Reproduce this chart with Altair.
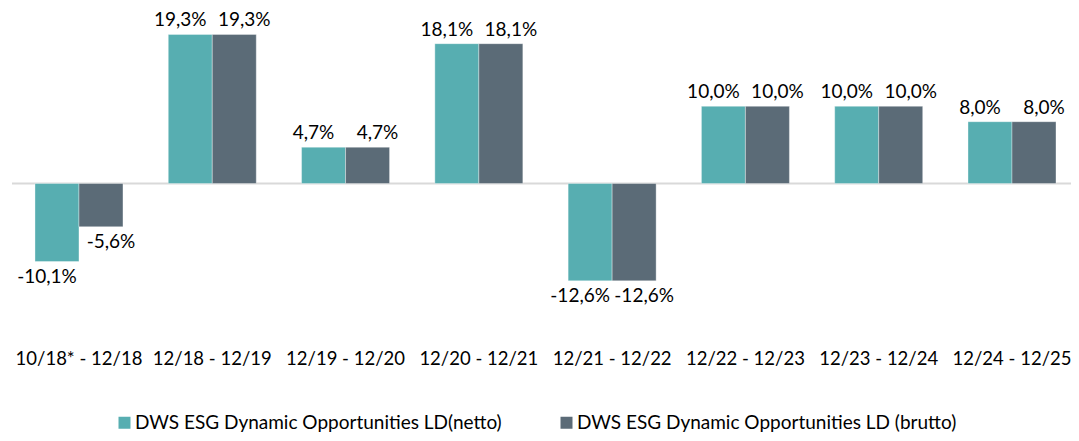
import altair as alt
import pandas as pd

periods = ["10/18* - 12/18", "12/18 - 12/19", "12/19 - 12/20", "12/20 - 12/21",
           "12/21 - 12/22", "12/22 - 12/23", "12/23 - 12/24", "12/24 - 12/25"]
netto = [-10.1, 19.3, 4.7, 18.1, -12.6, 10.0, 10.0, 8.0]
brutto = [-5.6, 19.3, 4.7, 18.1, -12.6, 10.0, 10.0, 8.0]
series = ["DWS ESG Dynamic Opportunities LD(netto)", "DWS ESG Dynamic Opportunities LD (brutto)"]
colors = ["#57AEB1", "#5B6B77"]

rows = []
for p, n, b in zip(periods, netto, brutto):
    for s, v in zip(series, (n, b)):
        rows.append({"period": p, "series": s, "value": v,
                     "label": f"{v:.1f}".replace(".", ",") + "%"})
df = pd.DataFrame(rows)

FONT = "Lato"
FS = 19

x = alt.X("period:N", sort=periods, title=None,
          scale=alt.Scale(paddingInner=0.3398, paddingOuter=0.1425, align=0.605, round=False),
          axis=alt.Axis(orient="bottom", domain=False, ticks=False, labelAngle=0,
                        labelFontSize=18.5, labelFont=FONT, labelColor="#000000",
                        labelPadding=11, labelBaseline="top", labelLimit=300))
xo = alt.XOffset("series:N", sort=series,
                 scale=alt.Scale(paddingInner=0, paddingOuter=0, round=False))
yscale = alt.Scale(domain=[-20, 20], nice=False, zero=False)
y = alt.Y("value:Q", scale=yscale, axis=None, title=None)

base = alt.Chart(df)

bars = base.mark_bar(stroke="#ffffff", strokeWidth=0.6, strokeOpacity=0.6).encode(
    x=x, xOffset=xo, y=y,
    color=alt.Color("series:N", sort=series,
                    scale=alt.Scale(domain=series, range=colors),
                    legend=alt.Legend(title=None, orient="none", direction="horizontal",
                                      legendX=103, legendY=384, symbolType="square",
                                      symbolSize=144, symbolStrokeWidth=0,
                                      labelFontSize=FS, labelFont=FONT, labelColor="#000000",
                                      labelLimit=600, columnPadding=55, labelOffset=1,
                                      padding=0)),
)

def labels(sname, shift):
    pos = base.transform_filter(
        f"datum.value >= 0 && datum.series == '{sname}'").mark_text(
        baseline="bottom", dy=-4, dx=shift, fontSize=FS, font=FONT, color="#000000").encode(
        x=x, xOffset=xo, y=y, text="label:N")
    neg = base.transform_filter(
        f"datum.value < 0 && datum.series == '{sname}'").mark_text(
        baseline="top", dy=6, dx=shift, fontSize=FS, font=FONT, color="#000000").encode(
        x=x, xOffset=xo, y=y, text="label:N")
    return [pos, neg]

zero = alt.Chart(pd.DataFrame({"z": [0]})).mark_rule(color="#D9D9D9", strokeWidth=2).encode(
    y=alt.Y("z:Q", scale=yscale, axis=None))

layers = [zero, bars] + labels(series[0], -10) + labels(series[1], 10)

chart = alt.layer(*layers).properties(
    width=1059, height=309,
    background="#ffffff",
    autosize=alt.AutoSizeParams(type="none"),
    padding={"left": 4, "top": 21, "right": 0, "bottom": 95},
).configure_view(strokeWidth=0, stroke=None)

chart.save("out.html", embed_options={"renderer": "svg", "actions": False})
